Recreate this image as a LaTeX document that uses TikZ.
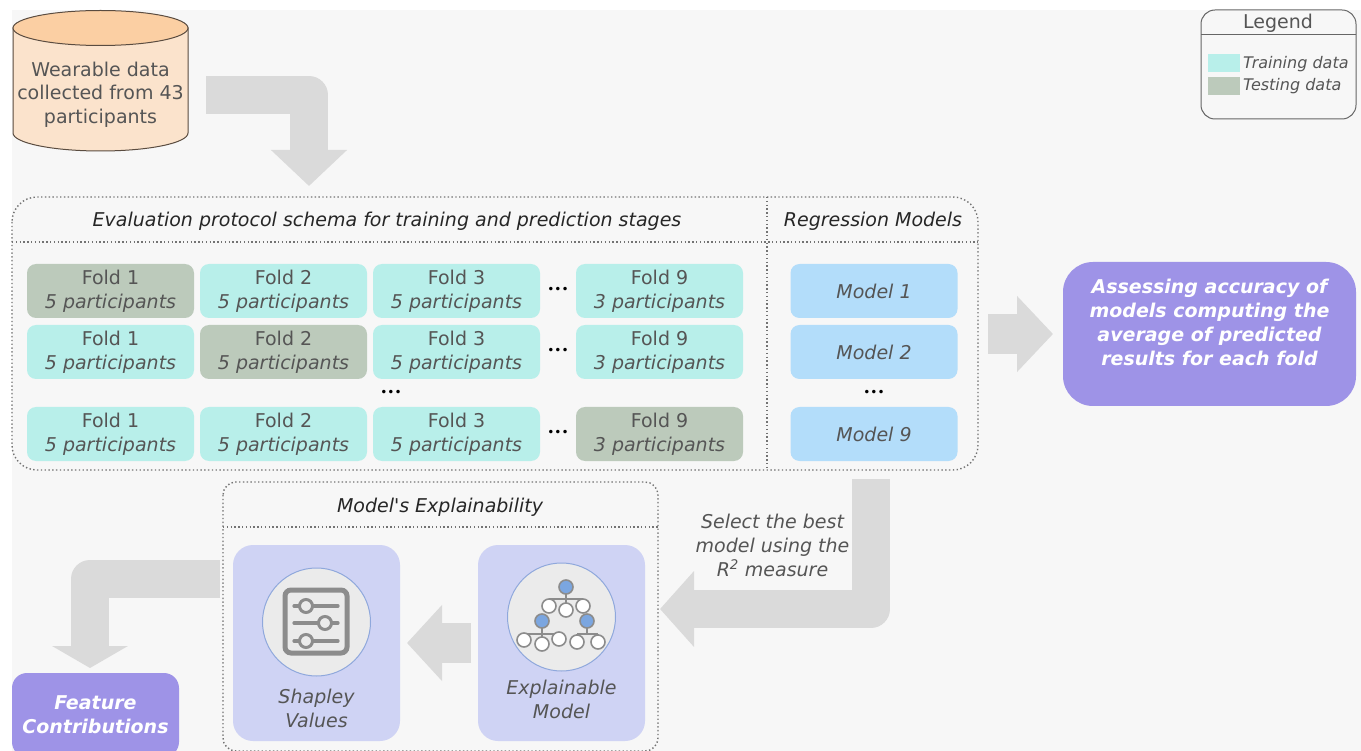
\documentclass[tikz,border=0pt]{standalone}
\usepackage{fontspec}
\setmainfont{DejaVu Sans}
\newfontfamily\plainf{DejaVu Sans}
\usetikzlibrary{arrows.meta}
\definecolor{pagebg}{HTML}{F7F7F7}
\definecolor{train}{HTML}{B8EFEA}
\definecolor{testc}{HTML}{BCCABB}
\definecolor{modelc}{HTML}{B3DDFA}
\definecolor{purp}{HTML}{9E93E7}
\definecolor{lav}{HTML}{CFD3F4}
\definecolor{arrowc}{HTML}{DADADA}
\definecolor{txt}{HTML}{555555}
\definecolor{dbtop}{HTML}{FBCFA3}
\definecolor{dbbody}{HTML}{FBE3CC}
\definecolor{dbedge}{HTML}{5A4C40}
\definecolor{discedge}{HTML}{8FA8DC}
\definecolor{discfill}{HTML}{EBEBEB}
\definecolor{icon}{HTML}{8C8C8C}
\definecolor{treeblue}{HTML}{7BA6E0}
\tikzset{
  foldbox/.style={rounded corners=9pt,minimum width=167pt,minimum height=54pt,inner sep=0pt,align=center,text=txt,font=\fontsize{19}{24}\selectfont},
  trainbox/.style={foldbox,fill=train},
  testbox/.style={foldbox,fill=testc},
  modelbox/.style={foldbox,fill=modelc,font=\fontsize{19}{24}\selectfont\itshape},
  dots/.style={font=\fontsize{12}{12}\selectfont,text=black,inner sep=0pt},
  frame/.style={draw=black!55,line width=1.4pt,dash pattern=on 1.4pt off 2.4pt},
  heading/.style={font=\itshape\fontsize{19}{23}\selectfont,text=black!85,inner sep=0pt},
  blockarrow/.style={draw=arrowc,line join=round},
  lavbox/.style={fill=lav,rounded corners=20pt,minimum width=167pt,minimum height=196pt,inner sep=0pt},
  disc/.style={circle,draw=discedge,line width=1pt,fill=discfill,minimum size=108pt,inner sep=0pt},
  purpbox/.style={fill=purp,text=white,align=center,font=\bfseries\itshape\fontsize{19}{24}\selectfont,inner sep=0pt},
  wnode/.style={circle,draw=icon,line width=1.6pt,fill=white,minimum size=14pt,inner sep=0pt},
  bnode/.style={circle,draw=icon,line width=1.6pt,fill=treeblue,minimum size=14pt,inner sep=0pt},
  knob/.style={circle,draw=icon,line width=3pt,fill=discfill,minimum size=13pt,inner sep=0pt},
  twig/.style={draw=icon,line width=1.2pt},
  rail/.style={draw=icon,line width=3.2pt,line cap=round},
}
\newcommand{\foldtext}[2]{Fold #1\\\textit{#2 participants}}
\begin{document}
\begin{tikzpicture}[x=1pt,y=-1pt]
\useasboundingbox (0,0) rectangle (1361,751);
\fill[white] (0,0) rectangle (1361,751);
\fill[pagebg] (12,10) rectangle (1361,751);

% database
\draw[dbedge,line width=1pt,fill=dbbody] (13,28) -- (13,133) arc [start angle=180,end angle=0,x radius=87.5,y radius=18] -- (188,28) -- cycle;
\draw[dbedge,line width=1pt,fill=dbtop] (100.5,28) ellipse [x radius=87.5,y radius=17.5];
\node[align=center,text=txt,font=\fontsize{19}{23.5}\selectfont] (dbt) at (100.5,94.5) {Wearable data\\collected from 43\\participants};

% legend
\node[draw=black!60,line width=1pt,rounded corners=14pt,minimum width=155pt,minimum height=109pt,inner sep=0pt] (legend) at (1278.5,64.5) {};
\draw[draw=black!60,line width=1pt] (1201,35) -- (1356,35);
\node[text=txt,font=\fontsize{19}{23}\selectfont,inner sep=0pt] (legt) at (1278,23) {Legend};
\node[fill=train,minimum width=32pt,minimum height=18pt,inner sep=0pt] (ltr) at (1223.5,63.5) {};
\node[fill=testc,minimum width=32pt,minimum height=18pt,inner sep=0pt] (lte) at (1223.5,86) {};
\node[anchor=west,text=txt,font=\itshape\fontsize{16}{20}\selectfont,inner sep=0pt] (ltrt) at (1243,64) {Training data};
\node[anchor=west,text=txt,font=\itshape\fontsize{16}{20}\selectfont,inner sep=0pt] (ltet) at (1243,86) {Testing data};

% main frame
\draw[frame,rounded corners=25pt] (12,197) rectangle (978,470);
\draw[frame] (12,242) -- (978,242);
\draw[frame] (767,197) -- (767,470);
\node[heading] (h1) at (387,221) {Evaluation protocol schema for training and prediction stages};
\node[heading] (h2) at (873,221) {Regression Models};

% folds
\node[testbox]  (a1) at (110.5,291) {\foldtext{1}{5}};
\node[trainbox] (a2) at (283.5,291) {\foldtext{2}{5}};
\node[trainbox] (a3) at (456.5,291) {\foldtext{3}{5}};
\node[dots]     (ad) at (558,290) {•••};
\node[trainbox] (a9) at (659.5,291) {\foldtext{9}{3}};
\node[trainbox] (b1) at (110.5,352) {\foldtext{1}{5}};
\node[testbox]  (b2) at (283.5,352) {\foldtext{2}{5}};
\node[trainbox] (b3) at (456.5,352) {\foldtext{3}{5}};
\node[dots]     (bd) at (558,351) {•••};
\node[trainbox] (b9) at (659.5,352) {\foldtext{9}{3}};
\node[dots]     (md) at (391,393) {•••};
\node[trainbox] (c1) at (110.5,434) {\foldtext{1}{5}};
\node[trainbox] (c2) at (283.5,434) {\foldtext{2}{5}};
\node[trainbox] (c3) at (456.5,434) {\foldtext{3}{5}};
\node[dots]     (cd) at (558,433) {•••};
\node[testbox]  (c9) at (659.5,434) {\foldtext{9}{3}};
% models
\node[modelbox] (m1) at (874,291) {Model 1};
\node[modelbox] (m2) at (874,352) {Model 2};
\node[dots]     (mm) at (874,393) {•••};
\node[modelbox] (m9) at (874,434) {Model 9};

% result boxes
\node[purpbox,rounded corners=30pt,minimum width=293pt,minimum height=144pt] (assess) at (1209.5,334) {Assessing accuracy of\\models computing the\\average of predicted\\results for each fold\\~};
\node[purpbox,rounded corners=15pt,minimum width=167pt,minimum height=84pt] (fc) at (95.5,715) {Feature\\Contributions};

% explainability frame
\draw[frame,rounded corners=13pt] (223,482) rectangle (658,751);
\draw[frame] (223,527) -- (658,527);
\node[heading] (h3) at (440,507) {Model{\plainf '}s Explainability};
\node[lavbox] (sv) at (316.5,643) {};
\node[lavbox] (em) at (561.5,643) {};
\node[disc] (svd) at (316.5,622) {};
\node[disc] (emd) at (561.5,617) {};
\node[align=center,text=txt,font=\itshape\fontsize{19}{24}\selectfont,inner sep=0pt] (svt) at (316.5,708) {Shapley\\Values};
\node[align=center,text=txt,font=\itshape\fontsize{19}{24}\selectfont,inner sep=0pt] (emt) at (561.5,699) {Explainable\\Model};

% sliders icon
\draw[draw=icon,line width=5pt,rounded corners=6pt] (285,590) rectangle (347,653);
\draw[rail] (294,606) -- (338,606);
\draw[rail] (294,623) -- (338,623);
\draw[rail] (294,641) -- (338,641);
\node[knob] (s1) at (306,606) {};
\node[knob] (s2) at (325,623) {};
\node[knob] (s3) at (306,641) {};

% tree icon
\draw[twig] (566,587) -- (566,610) (549,599) -- (583,599) (549,599) -- (549,606) (583,599) -- (583,606);
\draw[twig] (542,621) -- (542,644) (524,634) -- (559,634) (524,634) -- (524,640) (559,634) -- (559,639) (587,621) -- (587,634) (577,634) -- (598,634) (577,634) -- (577,642) (598,634) -- (598,642);
\node[bnode] (t0) at (566,587) {};
\node[wnode] (t1) at (549,606) {};
\node[wnode] (t2) at (566,610) {};
\node[wnode] (t3) at (583,606) {};
\node[bnode] (t4) at (542,621) {};
\node[bnode] (t5) at (587,621) {};
\node[wnode] (t6) at (524,640) {};
\node[wnode] (t7) at (542,644) {};
\node[wnode] (t8) at (559,639) {};
\node[wnode] (t9) at (577,642) {};
\node[wnode] (t10) at (598,642) {};

% block arrows
\coordinate (ar1s) at (206,95);
\coordinate (ar1c) at (309,95);
\coordinate (ar1t) at (309,186);
\draw[blockarrow,line width=38pt,-{Triangle[length=36pt,width=74pt]}] (ar1s) -- (ar1c) -- (ar1t);
\coordinate (ar2s) at (988,334);
\coordinate (ar2t) at (1053,334);
\draw[blockarrow,line width=40pt,-{Triangle[length=36pt,width=74pt]}] (ar2s) -- (ar2t);
\coordinate (ar3s) at (871,479);
\coordinate (ar3c) at (871,609);
\coordinate (ar3t) at (660,609);
\draw[blockarrow,line width=38pt,-{Triangle[length=34pt,width=74pt]}] (ar3s) -- (ar3c) -- (ar3t);
\coordinate (ar4s) at (471,643);
\coordinate (ar4t) at (407,643);
\draw[blockarrow,line width=40pt,-{Triangle[length=35pt,width=74pt]}] (ar4s) -- (ar4t);
\coordinate (ar5s) at (220,579);
\coordinate (ar5c) at (90,579);
\coordinate (ar5t) at (90,668);
\draw[blockarrow,line width=38pt,-{Triangle[length=22pt,width=75pt]}] (ar5s) -- (ar5c) -- (ar5t);

\node[align=center,text=txt,font=\itshape\fontsize{19}{24}\selectfont,inner sep=0pt] (sel) at (772.5,545) {Select the best\\model using the\\R\textsuperscript{2} measure};
\end{tikzpicture}
\end{document}
